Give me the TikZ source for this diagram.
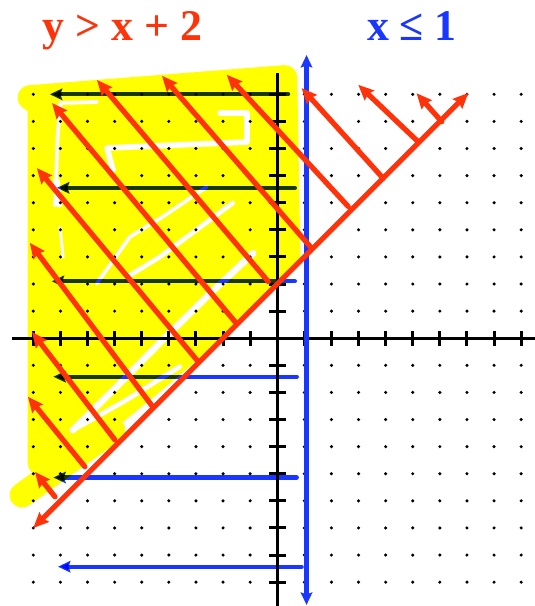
\documentclass[tikz,border=0pt]{standalone}
\usepackage{fontspec}
\setmainfont{Liberation Serif}
\usetikzlibrary{arrows.meta}
\definecolor{hlyellow}{RGB}{255,255,0}
\definecolor{shadered}{RGB}{255,50,10}
\definecolor{shadeblue}{RGB}{25,55,255}
\tikzset{
    >={Stealth[length=16pt, width=14pt, inset=2pt]}, % Arrowheads
    redarrow/.style={->, shadered, line width=5.5pt, line cap=round}, % Shading of y > x + 2
    bluearrow/.style={->, shadeblue, line width=4.5pt, line cap=round,
        >={Stealth[length=13pt, width=12pt, inset=2pt]}}, % Shading of x <= 1
    axis/.style={black, line width=3.2pt},
    highlight/.style={hlyellow, line width=26pt, line cap=round, line join=round},
    gap/.style={white, line cap=round, line join=round}, % Unpainted streaks
    title/.style={font=\bfseries\fontsize{46}{50}\selectfont, anchor=base},
}

\begin{document}
\begin{tikzpicture}
    \useasboundingbox (-10.23,-9.88) rectangle (9.51,12.48);

    % Highlighted solution region
    \fill[hlyellow] (-8.75,8.88) -- (0.28,9.62) -- (0.4,3.0) -- (0.4,2.4) -- (-2.0,0.05)
        -- (-3.0,-0.85) -- (-4.3,-1.95) -- (-6.06,-3.39) -- (-9.42,-5.79) -- (-8.75,-4.6) -- cycle;
    \draw[highlight] (-8.75,-4.6) -- (-8.75,8.6) -- (-9.12,8.88) -- (0.28,9.62) -- (0.4,3.0);
    \draw[highlight] (-9.42,-5.79) -- (-6.06,-3.39);

    % Streaks the highlighter missed
    \draw[gap, line width=4pt] (-6.65,8.72) -- (-8.0,8.68) -- (-8.1,7.5) -- (-8.2,4.9);
    \draw[gap, line width=7pt] (-8.15,5.8) -- (-8.05,4.95);
    \draw[gap, line width=3pt] (-8.02,4.1) -- (-7.9,3.0);
    \draw[gap, line width=6pt] (-6.06,6.21) -- (-6.28,7.02) -- (-1.12,7.24) -- (-1.12,8.31) -- (-2.11,8.31);
    \draw[gap, line width=4pt] (-2.6,5.59) -- (-4.2,4.5) -- (-5.44,3.74) -- (-6.65,2.03);
    \draw[gap, line width=5pt] (-5.54,2.26) -- (-4.33,3.0) -- (-1.64,4.99);
    \draw[gap, line width=7pt] (-7.54,-3.39) -- (-5.8,-1.66) -- (-4.33,-0.17) -- (-2.6,1.53) -- (-0.89,3.14);
    \draw[gap, line width=5pt] (-7.54,-3.39) -- (-5.6,-2.3) -- (-3.6,-1.05);

    % Grid dots
    \foreach \x in {-9,...,9}
        \foreach \y in {-9,...,9}
            \fill (\x,\y) circle (1.8pt);

    % Axes with ticks
    \draw[axis] (-9.8,0) -- (9.6,0);
    \draw[axis] (0,-9.95) -- (0,9.8);
    \foreach \t in {-9,...,-1,1,2,...,9} {
        \draw[axis] (\t,-0.28) -- (\t,0.28);
        \draw[axis] (-0.31,\t) -- (0.31,\t);
    }

    % x <= 1
    \begin{scope}[blend mode=multiply]
        \foreach \y/\a/\b in {9/0.4/-8.39, 5.55/0.65/-8.13, 2.1/0.65/-8.32,
                              -1.42/0.72/-8.26, -5.14/0.72/-8.26, -8.43/0.9/-8.09}
            \draw[bluearrow] (\a,\y) -- (\b,\y);
    \end{scope}
    \draw[bluearrow, <->, line width=5pt] (1.08,-9.84) -- (1.08,10.45);

    % y > x + 2
    \draw[redarrow, <->] (-9.0,-7.0) -- (7.05,9.05);
    \foreach \sx/\sy/\ex/\ey in {-0.33/2.09/-6.65/9.53, 1.27/3.32/-4.25/9.68,
            2.62/4.86/-1.86/9.72, -1.56/0.61/-8.31/8.68, -2.97/-0.80/-8.87/6.28,
            -4.58/-2.55/-9.13/3.52, -5.99/-3.75/-9.05/0.23, -7.10/-4.74/-9.20/-2.16,
            -8.20/-5.85/-8.94/-4.93, 3.91/5.90/0.90/9.23, 5.20/7.25/2.99/9.35,
            6.07/7.99/5.14/9.04}
        \draw[redarrow] (\sx,\sy) -- (\ex,\ey);

    % Inequalities
    \node[title, shadered] (ineqred) at (-5.71,11.0) {y > x + 2};
    \node[title, shadeblue] (ineqblue) at (4.97,11.0) {x ≤ 1};
\end{tikzpicture}
\end{document}
